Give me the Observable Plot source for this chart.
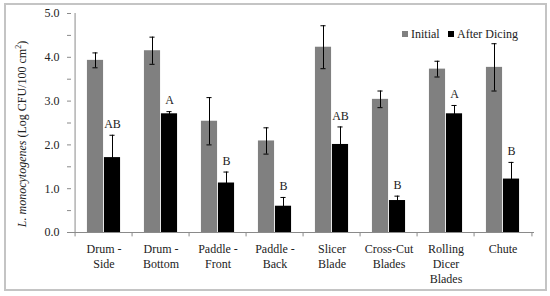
<!DOCTYPE html>
<html>
<head>
<meta charset="utf-8">
<script src="https://cdn.jsdelivr.net/npm/d3@7"></script>
<script src="https://cdn.jsdelivr.net/npm/@observablehq/plot@0.6"></script>
<style>
  body { margin: 0; background: #fff; }
  #wrap { position: relative; width: 550px; height: 296px; font-family: "Liberation Serif", "Times New Roman", serif; overflow: hidden; }
  #wrap svg { position: absolute; left: 0; top: 0; }
  #border { position: absolute; left: 4px; top: 3px; width: 539px; height: 284px; border: 2px solid #c4c4c4; pointer-events: none; }
  #ylabel { position: absolute; left: 22px; top: 134px; transform: translate(-50%, -50%) rotate(-90deg); white-space: nowrap; font-size: 12px; color: #222; font-family: "Liberation Serif", serif; }
  #ylabel sup { font-size: 8px; vertical-align: 5px; line-height: 0; }
  .leg { position: absolute; top: 27px; font-size: 12px; color: #222; white-space: nowrap; font-family: "Liberation Serif", serif; }
  .sw { display: inline-block; width: 6px; height: 6px; margin-right: 3px; vertical-align: 1px; }
</style>
</head>
<body>
<div id="wrap">
  <div id="border"></div>
  <div id="ylabel"><i>L. monocytogenes</i> (Log CFU/100 cm<sup>2</sup>)</div>
  <div class="leg" style="left:402px"><span class="sw" style="background:#808080"></span>Initial</div>
  <div class="leg" style="left:448px"><span class="sw" style="background:#000"></span>After Dicing</div>
</div>
<script>
const categories = ["Drum -\nSide", "Drum -\nBottom", "Paddle -\nFront", "Paddle -\nBack", "Slicer\nBlade", "Cross-Cut\nBlades", "Rolling\nDicer\nBlades", "Chute"];
const initialMean = [3.93, 4.15, 2.54, 2.09, 4.23, 3.04, 3.73, 3.77];
const initialErr  = [0.17, 0.31, 0.54, 0.30, 0.49, 0.19, 0.18, 0.54];
const afterMean   = [1.71, 2.71, 1.13, 0.60, 2.01, 0.73, 2.71, 1.22];
const afterErr    = [0.51, 0.05, 0.25, 0.20, 0.40, 0.10, 0.19, 0.38];
const letters     = ["AB", "A", "B", "B", "AB", "B", "A", "B"];
const yTicks = [0, 0.5, 1, 1.5, 2, 2.5, 3, 3.5, 4, 4.5, 5];

const W = 550, H = 296, ml = 71, mr = 16, mt = 13, mb = 64;
const bw = (W - ml - mr) / categories.length;
const barW = 17, capW = 6;
const half = bw / 2;

const initial = categories.map((c, i) => ({cat: c, v: initialMean[i], e: initialErr[i]}));
const after = categories.map((c, i) => ({cat: c, v: afterMean[i], e: afterErr[i], l: letters[i]}));

const axisColor = "#8a8a8a";
const textColor = "#222";

function errMarks(data, off) {
  return [
    Plot.ruleX(data, {x: "cat", y1: d => d.v - d.e, y2: d => d.v + d.e, dx: off, stroke: "#000", strokeWidth: 1}),
    Plot.tickY(data, {x: "cat", y: d => d.v + d.e, insetLeft: half + off - capW / 2, insetRight: half - off - capW / 2, stroke: "#000"}),
    Plot.tickY(data, {x: "cat", y: d => d.v - d.e, insetLeft: half + off - capW / 2, insetRight: half - off - capW / 2, stroke: "#000"})
  ];
}

const chart = Plot.plot({
  width: W, height: H,
  marginLeft: ml, marginRight: mr, marginTop: mt, marginBottom: mb,
  style: {fontFamily: "'Liberation Serif', serif", fontSize: "12px", color: textColor, background: "transparent"},
  x: {domain: categories, padding: 0, axis: null},
  y: {domain: [0, 5], axis: null},
  marks: [
    Plot.rectY(initial, {x: "cat", y: "v", fill: "#808080", insetLeft: half - barW, insetRight: half}),
    Plot.rectY(after, {x: "cat", y: "v", fill: "#000", insetLeft: half, insetRight: half - barW}),
    ...errMarks(initial, -barW / 2),
    ...errMarks(after, barW / 2),
    Plot.text(after, {x: "cat", y: d => d.v + d.e, dx: barW / 2, dy: -11, text: "l", fontSize: 12, fill: textColor}),
    // y axis
    Plot.ruleX([categories[0]], {dx: -half, y1: 0, y2: 5, stroke: axisColor}),
    Plot.axisY(yTicks, {label: null, tickSize: 4, tickPadding: 8, stroke: axisColor, color: textColor, fontSize: 12,
      tickFormat: d => Number.isInteger(d) ? d.toFixed(1) : ""}),
    // x axis
    Plot.ruleY([0], {stroke: axisColor}),
    Plot.ruleX(categories, {x: d => d, dx: -half, y1: 0, y2: -0.1, stroke: axisColor}),
    Plot.ruleX([categories[categories.length - 1]], {dx: half, y1: 0, y2: -0.1, stroke: axisColor}),
    Plot.text(categories, {x: d => d, text: d => d, frameAnchor: "bottom", dy: 10, lineAnchor: "top", lineHeight: 1.25, fontSize: 12, fill: textColor})
  ]
});
document.getElementById("wrap").prepend(chart);
</script>
</body>
</html>
